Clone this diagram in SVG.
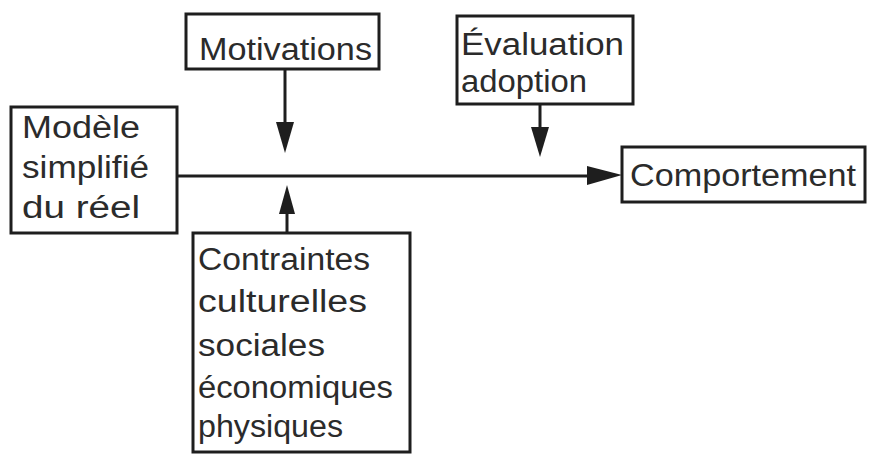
<svg xmlns="http://www.w3.org/2000/svg" width="884" height="461" viewBox="0 0 884 461">
<defs>
<style>
.box{fill:none;stroke:#1e1e1e;stroke-width:3}
.t{font-family:"Liberation Sans",Arial,sans-serif;font-size:31px;fill:#2b2b2b}
.c{stroke:#1e1e1e;stroke-width:3;fill:none}
</style>
<marker id="ah" markerWidth="11" markerHeight="7" refX="11" refY="3.5" orient="auto" markerUnits="userSpaceOnUse" viewBox="0 0 11 7">
<path d="M0,0 L11,3.5 L0,7 Z" fill="#1e1e1e"/>
</marker>
</defs>
<rect width="884" height="461" fill="#ffffff"/>
<g id="connectors">
<line class="c" x1="178" y1="176" x2="590" y2="176"/>
<path d="M587,166 L622,175 L587,185 Z" fill="#1e1e1e"/>
<line class="c" x1="285" y1="69" x2="285" y2="125"/>
<path d="M276,122 L285,153 L294,122 Z" fill="#1e1e1e"/>
<line class="c" x1="287" y1="233" x2="287" y2="210"/>
<path d="M279,214 L287,185 L295,214 Z" fill="#1e1e1e"/>
<line class="c" x1="540" y1="104" x2="540" y2="130"/>
<path d="M531,127 L540,157 L549,127 Z" fill="#1e1e1e"/>
</g>
<g id="motivations">
<rect class="box" x="186" y="14" width="193" height="55"/>
<text class="t" x="199" y="60" textLength="173" lengthAdjust="spacingAndGlyphs">Motivations</text>
</g>
<g id="evaluation">
<rect class="box" x="457" y="16" width="176" height="88"/>
<text class="t" x="461" y="55" textLength="163" lengthAdjust="spacingAndGlyphs">Évaluation</text>
<text class="t" x="461" y="92" textLength="126" lengthAdjust="spacingAndGlyphs">adoption</text>
</g>
<g id="modele">
<rect class="box" x="11" y="107" width="166" height="126"/>
<text class="t" x="22" y="138" textLength="118" lengthAdjust="spacingAndGlyphs">Modèle</text>
<text class="t" x="22" y="178" textLength="127" lengthAdjust="spacingAndGlyphs">simplifié</text>
<text class="t" x="22" y="218" textLength="118" lengthAdjust="spacingAndGlyphs">du  réel</text>
</g>
<g id="comportement">
<rect class="box" x="622" y="147" width="243" height="55"/>
<text class="t" x="630" y="186" textLength="226" lengthAdjust="spacingAndGlyphs">Comportement</text>
</g>
<g id="contraintes">
<rect class="box" x="193" y="233" width="217" height="219"/>
<text class="t" x="198" y="270" textLength="172" lengthAdjust="spacingAndGlyphs">Contraintes</text>
<text class="t" x="198" y="312" textLength="169" lengthAdjust="spacingAndGlyphs">culturelles</text>
<text class="t" x="198" y="356" textLength="127" lengthAdjust="spacingAndGlyphs">sociales</text>
<text class="t" x="198" y="398" textLength="195" lengthAdjust="spacingAndGlyphs">économiques</text>
<text class="t" x="198" y="437" textLength="145" lengthAdjust="spacingAndGlyphs">physiques</text>
</g>
</svg>
